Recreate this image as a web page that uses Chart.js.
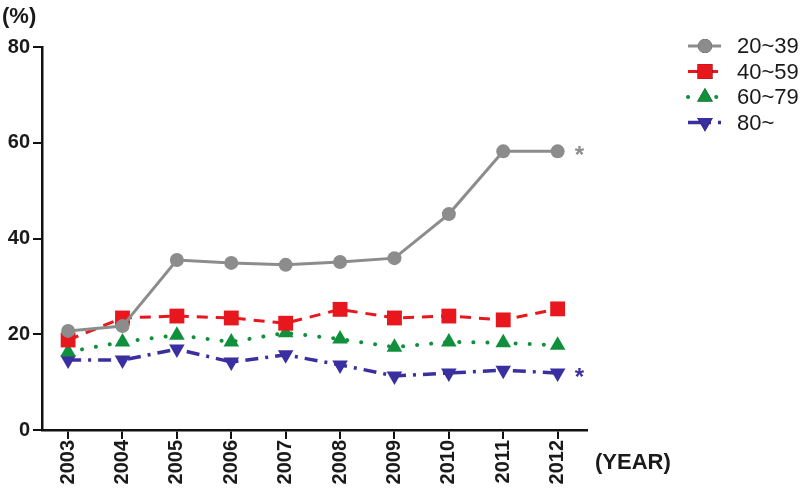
<!DOCTYPE html>
<html>
<head>
<meta charset="utf-8">
<script src="https://cdn.jsdelivr.net/npm/chart.js@4/dist/chart.umd.min.js"></script>
<style>
  html, body { margin: 0; padding: 0; background: #fff; }
  #wrap { width: 800px; height: 488px; position: relative; }
</style>
</head>
<body>
<div id="wrap"><canvas id="chart"></canvas></div>
<script>
// Data
const years = [2003, 2004, 2005, 2006, 2007, 2008, 2009, 2010, 2011, 2012];
const age20to39 = [20.7, 21.7, 35.5, 34.9, 34.5, 35.1, 35.9, 45.1, 58.2, 58.2];
const age40to59 = [18.8, 23.4, 23.8, 23.4, 22.3, 25.2, 23.4, 23.8, 23.0, 25.3];
const age60to79 = [16.3, 18.4, 19.8, 18.4, 20.3, 19.0, 17.3, 18.4, 18.2, 17.7];
const age80plus = [14.6, 14.6, 16.9, 14.2, 15.7, 13.6, 11.3, 11.9, 12.5, 11.9];
const seriesLabels = ['20~39', '40~59', '60~79', '80~'];
const yTicks = [0, 20, 40, 60, 80];
const starred = [0, 3]; // series with a significance mark

const FONT = '"Liberation Sans", Arial, sans-serif';

function points(values) {
    return years.map((yr, i) => ({ x: yr, y: values[i] }));
}

// Legend with line sample + marker, drawn on the right
const legendPlugin = {
    id: 'sideLegend',
    afterDraw(chart) {
        const ctx = chart.ctx;
        const rows = [46, 71.5, 97, 122.5];
        chart.data.datasets.forEach((ds, i) => {
            const y = rows[i];
            ctx.save();
            ctx.strokeStyle = ds.borderColor;
            ctx.lineWidth = ds.borderWidth;
            ctx.setLineDash(ds.borderDash || []);
            ctx.lineCap = ds.borderCapStyle || 'butt';
            ctx.beginPath();
            ctx.moveTo(688, y);
            ctx.lineTo(721, y);
            ctx.stroke();
            ctx.setLineDash([]);
            Chart.helpers.drawPoint(ctx, {
                pointStyle: ds.pointStyle,
                radius: ds.pointRadius,
                rotation: ds.pointRotation || 0,
                borderWidth: 0
            }, 705, y);
            ctx.fillStyle = ds.borderColor;
            ctx.fill();
            ctx.fillStyle = '#1a1a1a';
            ctx.font = '22px ' + FONT;
            ctx.textBaseline = 'middle';
            ctx.textAlign = 'left';
            ctx.fillText(ds.label, 737, y + 1);
            ctx.restore();
        });
    }
};

// Axis unit labels and asterisks next to the last points
const notesPlugin = {
    id: 'notes',
    afterDraw(chart) {
        const ctx = chart.ctx;
        ctx.save();
        ctx.fillStyle = '#1a1a1a';
        ctx.font = 'bold 22px ' + FONT;
        ctx.textBaseline = 'middle';
        ctx.textAlign = 'left';
        ctx.fillText('(%)', 2, 17);
        ctx.fillText('(YEAR)', 595, 463);

        starred.forEach(i => {
            const meta = chart.getDatasetMeta(i);
            const last = meta.data[meta.data.length - 1];
            ctx.fillStyle = chart.data.datasets[i].borderColor;
            ctx.font = 'bold 24px ' + FONT;
            ctx.fillText('*', last.x + 17, last.y + 5);
        });
        ctx.restore();
    }
};

const axisGrid = {
    display: true,
    drawOnChartArea: false,
    drawTicks: true,
    tickLength: 9,
    color: '#111',
    lineWidth: 2
};

new Chart(document.getElementById('chart'), {
    type: 'line',
    data: {
        datasets: [
            {
                label: seriesLabels[0],
                data: points(age20to39),
                borderColor: '#8c8c8c',
                backgroundColor: '#8c8c8c',
                borderWidth: 3,
                pointStyle: 'circle',
                pointRadius: 7,
                pointBorderWidth: 0
            },
            {
                label: seriesLabels[1],
                data: points(age40to59),
                borderColor: '#e8161d',
                backgroundColor: '#e8161d',
                borderWidth: 3,
                borderDash: [11, 8],
                pointStyle: 'rect',
                pointRadius: 10.5,
                pointBorderWidth: 0
            },
            {
                label: seriesLabels[2],
                data: points(age60to79),
                borderColor: '#10903c',
                backgroundColor: '#10903c',
                borderWidth: 4,
                borderDash: [0.1, 14],
                borderCapStyle: 'round',
                pointStyle: 'triangle',
                pointRadius: 9,
                pointBorderWidth: 0
            },
            {
                label: seriesLabels[3],
                data: points(age80plus),
                borderColor: '#3a2fa0',
                backgroundColor: '#3a2fa0',
                borderWidth: 3.5,
                borderDash: [13, 7, 3, 7],
                pointStyle: 'triangle',
                pointRotation: 180,
                pointRadius: 9,
                pointBorderWidth: 0
            }
        ]
    },
    options: {
        responsive: true,
        maintainAspectRatio: false,
        animation: false,
        layout: { padding: { top: 47, right: 213, left: 0, bottom: 0 } },
        plugins: {
            legend: { display: false },
            tooltip: { enabled: false }
        },
        scales: {
            x: {
                type: 'linear',
                min: 2002.52,
                max: 2012.54,
                afterBuildTicks: scale => { scale.ticks = years.map(v => ({ value: v })); },
                afterFit: scale => { scale.height = 58; },
                ticks: {
                    color: '#1a1a1a',
                    font: { family: FONT, size: 20, weight: 'bold' },
                    minRotation: 90,
                    maxRotation: 90,
                    padding: 1,
                    callback: v => String(v)
                },
                grid: axisGrid,
                border: { display: true, color: '#111', width: 2.5 }
            },
            y: {
                min: 0,
                max: 80,
                afterBuildTicks: scale => { scale.ticks = yTicks.map(v => ({ value: v })); },
                afterFit: scale => { scale.width = 42; },
                ticks: {
                    color: '#1a1a1a',
                    font: { family: FONT, size: 20, weight: 'bold' },
                    padding: 3
                },
                grid: axisGrid,
                border: { display: true, color: '#111', width: 2.5 }
            }
        }
    },
    plugins: [legendPlugin, notesPlugin]
});
</script>
</body>
</html>
